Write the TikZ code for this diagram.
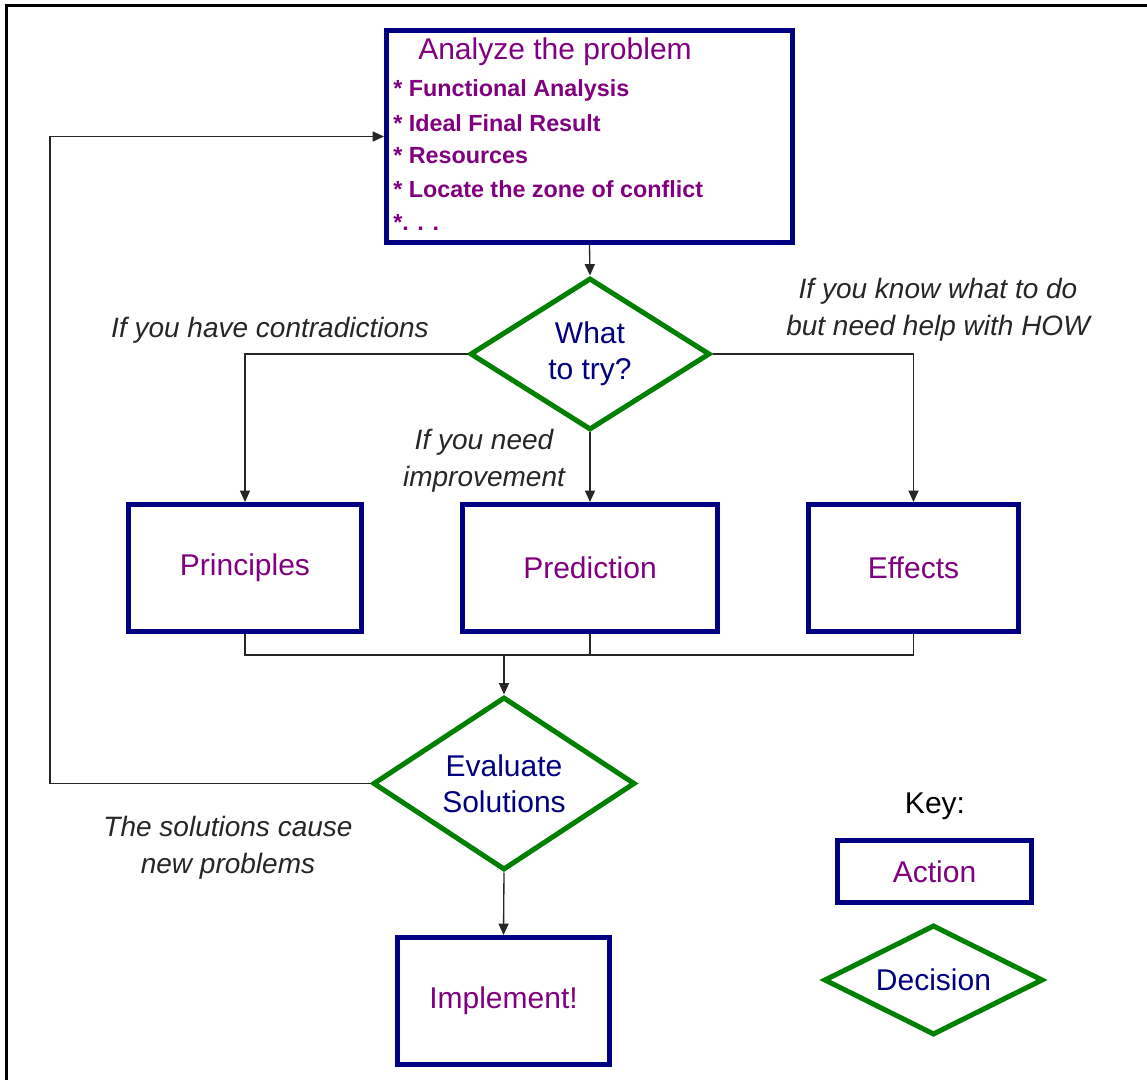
\documentclass[tikz,border=0pt]{standalone}
\usepackage{fontspec}
\setmainfont{Liberation Sans}
\usetikzlibrary{shapes.geometric,arrows.meta}
\definecolor{actpurple}{RGB}{128,0,128}
\definecolor{boxnavy}{RGB}{0,0,128}
\definecolor{decgreen}{RGB}{0,128,0}

\tikzset{
  action/.style={draw=boxnavy, line width=3.75pt, text=actpurple, font=\fontsize{22.5}{27}\selectfont, minimum height=95.25pt},
  decision/.style={diamond, draw=decgreen, line width=3.75pt, text=boxnavy, inner sep=0pt, align=center, font=\fontsize{22.5}{27}\selectfont},
  headline/.style={anchor=west, inner sep=0pt, text=actpurple, font=\fontsize{22.5}{27}\selectfont},
  item/.style={anchor=west, inner sep=0pt, text=actpurple, font=\bfseries\fontsize{17.5}{21}\selectfont},
  note/.style={align=center, inner sep=0pt, text=black!85, font=\itshape\fontsize{21}{28}\selectfont},
  wire/.style={draw=black!85, line width=1pt},
  flow/.style={wire, -{Triangle[length=8.5pt,width=7.5pt]}}
}

\begin{document}
\begin{tikzpicture}[x=0.75pt,y=-0.75pt]
\clip (0,0) rectangle (1147,1080);
% frame
\draw[line width=2.25pt] (6,1090) -- (6,6) -- (1160,6);

% analysis step
\node[action, minimum width=304.5pt, minimum height=159pt] (analyze) at (589.5,136.5) {};
\node[headline] (atitle) at (418,52) {Analyze the problem};
\foreach \t [count=\i] in {Functional Analysis, Ideal Final Result, Resources, Locate the zone of conflict}
  \node[item] (item\i) at (393,{90+33*(\i-1)}) {* \t};
\node[item] (item5) at (393,222) {*. . .};

% first decision
\node[decision, aspect=1.58, minimum width=180pt, minimum height=114pt] (what) at (590,354) {What\\to try?};

\node[action, minimum width=174.75pt] (princ) at (245,568) {Principles};
\node[action, minimum width=191.25pt] (pred) at (590,568) {Prediction};
\node[action, minimum width=157.5pt] (effects) at (913.5,568) {Effects};

\node[decision, aspect=1.51, minimum width=196.5pt, minimum height=129.75pt] (eval) at (504,783.5) {Evaluate\\Solutions};
\node[action, minimum width=159pt] (impl) at (503.5,1001) {Implement!};

% key
\node[font=\fontsize{22.5}{27}\selectfont] (key) at (935,806) {Key:};
\node[action, minimum width=145.5pt, minimum height=46.5pt] (act) at (934.5,871.5) {Action};
\node[decision, aspect=2, minimum width=164.25pt, minimum height=82.5pt] (dec) at (933.5,980) {Decision};

% labels
\node[note] (lcontra) at (270,330) {If you have contradictions};
\node[note] (lhow) at (938,310) {If you know what to do\\but need help with HOW};
\node[note] (limpr) at (484,461) {If you need\\improvement};
\node[note] (lnew) at (228,848) {The solutions cause\\new problems};

% connectors
\coordinate (join) at (504,655);
\coordinate (loop) at (50,0);
\draw[flow] (analyze.south) -- (what.north);
\draw[flow] (what.west) -| (princ.north);
\draw[flow] (what.east) -| (effects.north);
\draw[flow] (what.south) -- (pred.north);
\draw[wire] (princ.south) |- (effects.south |- join) -- (effects.south);
\draw[wire] (pred.south) -- (pred.south |- join);
\draw[flow] (join) -- (eval.north);
\draw[flow] (eval.west) -- (eval.west -| loop) |- (analyze.west);
\draw[flow] (eval.south) -- (impl.north);

\end{tikzpicture}
\end{document}
